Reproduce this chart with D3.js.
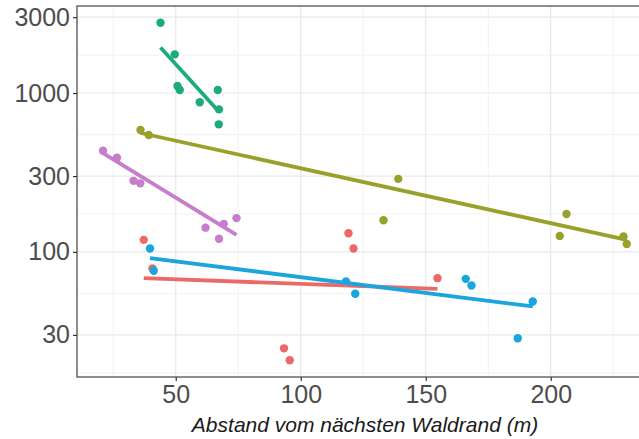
<!DOCTYPE html>
<html>
<head>
<meta charset="utf-8">
<script src="https://cdn.jsdelivr.net/npm/d3@7"></script>
<style>
  html, body { margin: 0; padding: 0; background: #fff; }
  svg { display: block; font-family: "Liberation Sans", Arial, sans-serif; }
</style>
</head>
<body>
<svg id="chart" width="639" height="439"></svg>
<script>
// Series (one colour per site group)
const seriesIds = ["g1", "g2", "g3", "g4", "g5"];
const seriesColors = ["#ea6a6a", "#98a12a", "#1cab7b", "#1aa5df", "#c77ccc"];

// Distance to nearest forest edge (m) and abundance, per series
const xG1 = [37.2, 40.7, 93.3, 95.6, 119.1, 121.1, 154.7];
const yG1 = [119, 78.5, 24.7, 20.8, 131, 105, 68.3];
const xG2 = [35.9, 39.2, 133.1, 139.0, 203.6, 206.3, 229.1, 230.4];
const yG2 = [585, 544, 158, 288, 126, 173, 125, 112];
const xG3 = [43.9, 49.6, 50.7, 51.6, 59.6, 66.8, 67.3, 67.2];
const yG3 = [2768, 1751, 1107, 1045, 874, 1045, 789, 635];
const xG4 = [39.7, 41.2, 118.1, 121.8, 166.0, 168.3, 186.8, 192.8];
const yG4 = [105, 76, 65.1, 54.5, 67.6, 61.4, 28.6, 48.7];
const xG5 = [20.9, 26.5, 33.1, 35.8, 61.9, 67.3, 69.2, 74.3];
const yG5 = [433, 392, 280, 270, 142, 121, 150, 163];

// Fitted (log-linear) values at the lower and upper end of each series' x range
const fitLow = [68.3, 560, 1937, 91.3, 418];
const fitHigh = [58.5, 119, 762, 45.3, 128];

// Axis ticks
const xTicks = [50, 100, 150, 200];
const xMinorTicks = [25, 75, 125, 175, 225];
const yTicks = [30, 100, 300, 1000, 3000];
const yMinorTicks = [17.3, 54.8, 173, 548, 1732];

const xTitle = "Abstand vom nächsten Waldrand (m)";

const xs = [xG1, xG2, xG3, xG4, xG5];
const ys = [yG1, yG2, yG3, yG4, yG5];

const series = seriesIds.map((id, i) => ({
  id,
  color: seriesColors[i],
  points: xs[i].map((x, j) => ({ x, y: ys[i][j] })),
  fit: [
    { x: d3.min(xs[i]), y: fitLow[i] },
    { x: d3.max(xs[i]), y: fitHigh[i] }
  ]
}));

const svg = d3.select("#chart");
const panel = { left: 77, top: 6, right: 653, bottom: 377 };

const x = d3.scaleLinear().domain([10.5, 240.9]).range([panel.left, panel.right]);
const y = d3.scaleLog().domain([16.3, 3530]).range([panel.bottom, panel.top]);

svg.append("defs").append("clipPath").attr("id", "clip")
  .append("rect")
  .attr("x", panel.left).attr("y", panel.top)
  .attr("width", panel.right - panel.left).attr("height", panel.bottom - panel.top);

const grid = svg.append("g").attr("clip-path", "url(#clip)");

// minor grid
grid.selectAll(".xminor").data(xMinorTicks).join("line")
  .attr("x1", d => x(d)).attr("x2", d => x(d))
  .attr("y1", panel.top).attr("y2", panel.bottom)
  .attr("stroke", "#f2f2f2").attr("stroke-width", 1);
grid.selectAll(".yminor").data(yMinorTicks).join("line")
  .attr("x1", panel.left).attr("x2", panel.right)
  .attr("y1", d => y(d)).attr("y2", d => y(d))
  .attr("stroke", "#f2f2f2").attr("stroke-width", 1);

// major grid
grid.selectAll(".xmajor").data(xTicks).join("line")
  .attr("x1", d => x(d)).attr("x2", d => x(d))
  .attr("y1", panel.top).attr("y2", panel.bottom)
  .attr("stroke", "#e8e8e8").attr("stroke-width", 1.2);
grid.selectAll(".ymajor").data(yTicks).join("line")
  .attr("x1", panel.left).attr("x2", panel.right)
  .attr("y1", d => y(d)).attr("y2", d => y(d))
  .attr("stroke", "#e8e8e8").attr("stroke-width", 1.2);

// points
const marks = svg.append("g").attr("clip-path", "url(#clip)");
series.forEach(s => {
  marks.append("g").selectAll("circle").data(s.points).join("circle")
    .attr("cx", d => x(d.x)).attr("cy", d => y(d.y))
    .attr("r", 4.2)
    .attr("fill", s.color);
});

// fitted lines
const line = d3.line().x(d => x(d.x)).y(d => y(d.y));
series.forEach(s => {
  marks.append("path").datum(s.fit)
    .attr("d", line)
    .attr("fill", "none")
    .attr("stroke", s.color)
    .attr("stroke-width", 3.8);
});

// panel border
svg.append("rect")
  .attr("x", panel.left).attr("y", panel.top)
  .attr("width", panel.right - panel.left).attr("height", panel.bottom - panel.top)
  .attr("fill", "none").attr("stroke", "#5e5e5e").attr("stroke-width", 1.4);

// axes
const xAxis = d3.axisBottom(x).tickValues(xTicks).tickSize(4).tickPadding(4).tickFormat(d3.format("d"));
const yAxis = d3.axisLeft(y).tickValues(yTicks).tickSize(4).tickPadding(3).tickFormat(d3.format("d"));

const gx = svg.append("g").attr("transform", `translate(0,${panel.bottom})`).call(xAxis);
const gy = svg.append("g").attr("transform", `translate(${panel.left},0)`).call(yAxis);

[gx, gy].forEach(g => {
  g.select(".domain").remove();
  g.selectAll(".tick line").attr("stroke", "#333").attr("stroke-width", 1.2);
  g.selectAll(".tick text")
    .attr("fill", "#4d4d4d")
    .style("font-size", "25px")
    .style("font-family", "'Liberation Sans', Arial, sans-serif");
});
gx.selectAll(".tick text").attr("dy", "0.72em");

// x axis title
svg.append("text")
  .attr("x", (panel.left + panel.right) / 2)
  .attr("y", 432)
  .attr("text-anchor", "middle")
  .style("font-size", "21px")
  .style("font-style", "italic")
  .attr("fill", "#1a1a1a")
  .text(xTitle);
</script>
</body>
</html>
